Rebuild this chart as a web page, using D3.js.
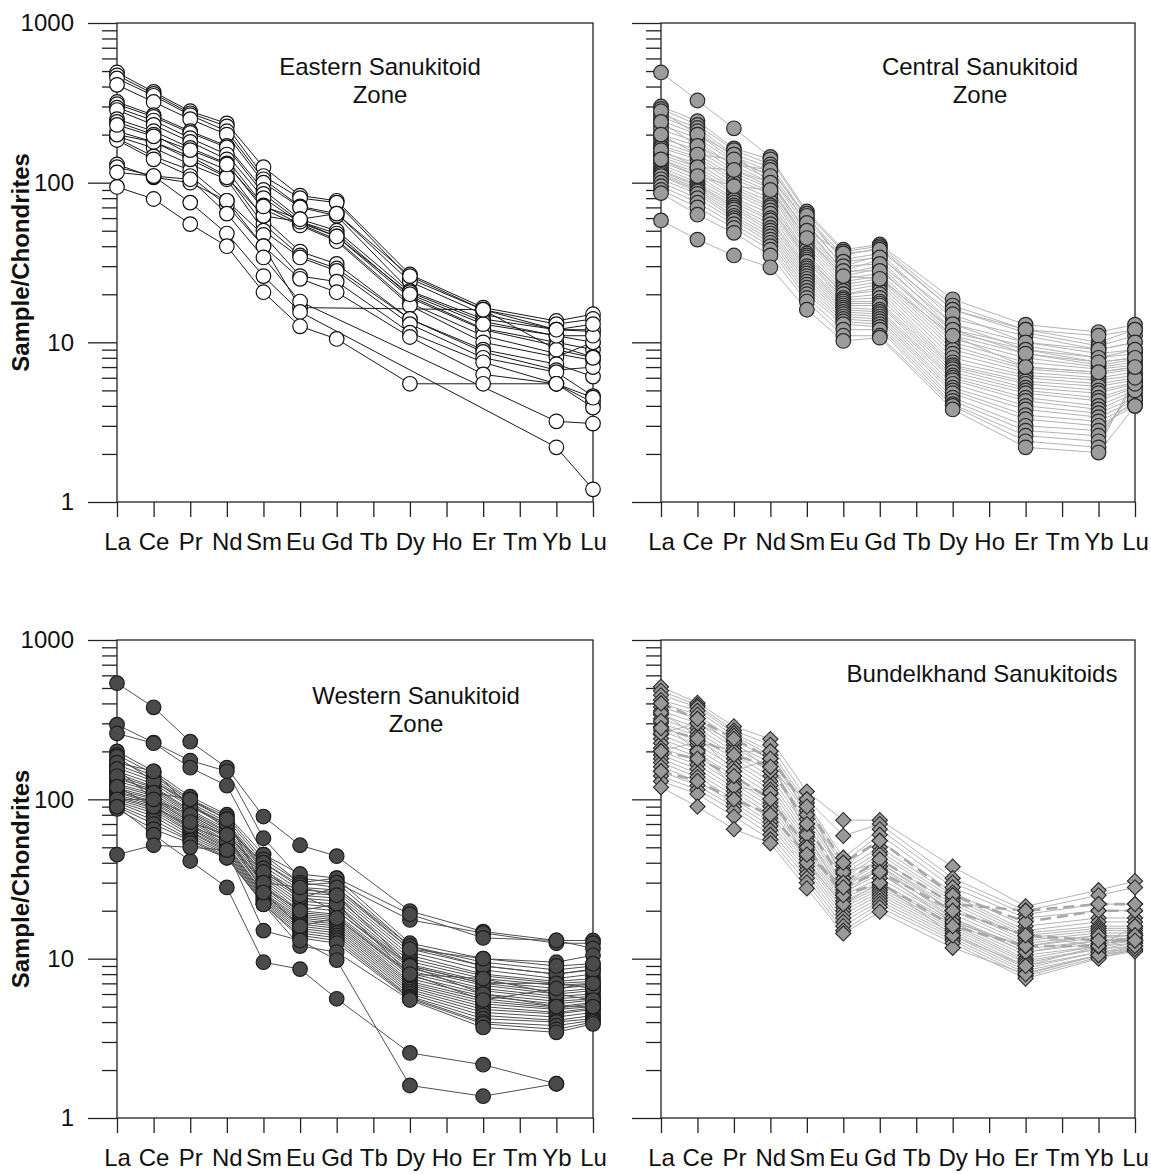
<!DOCTYPE html>
<html>
<head>
<meta charset="utf-8">
<script src="https://cdn.jsdelivr.net/npm/d3@7"></script>
<style>
  body { margin: 0; background: #fff; }
  svg { display: block; font-family: "Liberation Sans", Arial, sans-serif; }
</style>
</head>
<body>
<svg id="chart" width="1151" height="1174"></svg>
<script>
// REE spider diagrams, chondrite normalised
const ELEMENTS = ['La', 'Ce', 'Pr', 'Nd', 'Sm', 'Eu', 'Gd', 'Tb', 'Dy', 'Ho', 'Er', 'Tm', 'Yb', 'Lu'];
// columns of every sample row below
const MEASURED = ['La', 'Ce', 'Pr', 'Nd', 'Sm', 'Eu', 'Gd', 'Dy', 'Er', 'Yb', 'Lu'];
const Y_TICKS = [1, 10, 100, 1000];
const Y_MINOR = [2, 3, 4, 5, 6, 7, 8, 9, 20, 30, 40, 50, 60, 70, 80, 90, 200, 300, 400, 500, 600, 700, 800, 900];

//            La   Ce   Pr   Nd   Sm   Eu    Gd    Dy    Er    Yb    Lu
const eastern = [
  [490, 370, 280, 235, 125, 83, 77, 26.6, 16.5, 13.6, 15],
  [470, 360, 272, 225, 110, 80, 75, 25, 16, 13, 14],
  [450, 350, 265, 210, 105, 71, 64, 24, 15, 12, 11.7],
  [410, 320, 250, 200, 100, 70, 62, 21, 14, 12, 12],
  [320, 265, 210, 170, 90, 59, 50, 20.6, 13.5, 11, 10],
  [310, 258, 205, 166, 85, 57, 48, 19.5, 12.2, 10, 9],
  [295, 245, 190, 150, 80, 56, 46, 19, 12, 9.5, 8.1],
  [285, 230, 180, 140, 72, 55, 44, 17.6, 11, 8.5, 7.7],
  [250, 210, 165, 132, 68, 54, 43, 17, 10, 8.1, 10],
  [240, 200, 150, 120, 60, 37, 31, 14, 9, 7.3, 6.1],
  [210, 180, 146, 110, 55, 35, 29, 14, 8.7, 6.7, 7],
  [195, 165, 130, 105, 50, 34, 28, 13, 8, 6.5, 4.6],
  [190, 146, 120, 77, 47, 26, 24, 11.5, 7.5, 5.5, 4.2],
  [185, 140, 110, 72, 40, 25, 20.6, 10.8, 6.3, 5.5, 3.9],
  [130, 108, 100, 77, 40, 16.5, null, null, 16, 9, 8],
  [125, 110, 105, 64, 34, 18, null, null, null, 3.2, 3.1],
  [116, 110, 75, 48, 26, 15.5, null, null, null, 2.2, 1.2],
  [94, 79, 55, 40, 20.6, 12.6, 10.5, 5.5, 5.5, 5.5, 4.5],
  [200, 180, 140, 108, 62, 57, 46, 20, 13, 11, 11],
  [230, 195, 160, 130, 71, 59, 64, 26, 16, 12, 13]
];

const central = [
  [490, 327, 219, 145, 66, 38, 41, 18.6, 12.9, 11.6, 12.9],
  [300, 243, 164, 140, 64, 37, 40, 17, 12, 10, 12],
  [290, 230, 160, 130, 60, 35, 39, 16, 11.5, 9.5, 11],
  [270, 220, 150, 125, 58, 33, 36, 14, 11, 9, 10],
  [260, 210, 145, 118, 55, 30, 35, 13, 10, 8.5, 9],
  [245, 200, 140, 110, 52, 28, 33, 12, 9.5, 8, 8.5],
  [230, 190, 135, 105, 48, 27, 30, 11.5, 9, 7.5, 8],
  [215, 180, 128, 100, 46, 26, 29, 11, 8.5, 7.2, 7.8],
  [200, 170, 120, 95, 44, 25, 27, 10.5, 8, 7, 7.5],
  [190, 160, 115, 92, 42, 24, 26, 10, 7.5, 6.8, 7.2],
  [180, 150, 110, 88, 40, 23, 25, 9.5, 7, 6.5, 7],
  [170, 145, 105, 85, 38, 22, 24, 9, 6.8, 6.3, 6.8],
  [165, 140, 100, 80, 36, 21, 23, 8.5, 6.5, 6, 6.5],
  [155, 132, 95, 76, 35, 20, 22, 8, 6.2, 5.8, 6.2],
  [150, 125, 92, 72, 34, 20, 21, 7.5, 6, 5.5, 6],
  [145, 120, 88, 70, 33, 19, 20, 7.2, 5.7, 5.3, 5.8],
  [140, 115, 85, 67, 32, 18.5, 19, 7, 5.5, 5, 5.6],
  [135, 110, 80, 64, 30, 18, 18, 6.8, 5.2, 4.8, 5.5],
  [130, 105, 78, 60, 29, 17.5, 17.5, 6.5, 5, 4.5, 5.3],
  [125, 100, 75, 58, 28, 17, 17, 6.2, 4.8, 4.3, 5.2],
  [120, 97, 72, 55, 27, 16.5, 16, 6, 4.5, 4, 5],
  [118, 95, 70, 52, 26, 16, 15.5, 5.8, 4.3, 3.8, 4.8],
  [115, 92, 68, 50, 25, 15.5, 15, 5.5, 4, 3.6, 4.5],
  [112, 90, 65, 48, 24, 15, 14.5, 5.2, 3.8, 3.4, 4.3],
  [110, 88, 62, 46, 23, 14.5, 14, 5, 3.5, 3.2, 4.1],
  [105, 85, 60, 44, 22, 14, 13.5, 4.8, 3.3, 3, 4],
  [100, 80, 58, 42, 21, 13.5, 13, 4.5, 3, 2.8, 4.4],
  [95, 75, 55, 40, 20, 13, 12.5, 4.3, 2.8, 2.6, 5],
  [90, 70, 52, 38, 19, 12, 12, 4.1, 2.6, 2.4, 5.5],
  [86, 63, 48.5, 35, 18, 11, 11, 4, 2.4, 2.2, 6],
  [58, 44, 35, 29.5, 16, 10.2, 10.7, 3.8, 2.2, 2.04, 4],
  [280, 200, 150, 100, 50, 36, 38, 16, 12, 11, 12],
  [240, 170, 130, 120, 62, 32, 34, 15, 10, 9, 10],
  [200, 150, 140, 110, 56, 30, 31, 13, 9, 8, 9],
  [160, 125, 120, 100, 50, 28, 28, 12, 8.5, 7.5, 8],
  [140, 110, 95, 90, 45, 26, 25, 11, 7, 6.5, 7]
];

const western = [
  [536, 378, 230, 158, 78, 51.5, 44, 19.9, 14.8, 13, 13],
  [294, 227, 175, 150, 57, 32, 30, 17.5, 14.5, 12.5, 12.5],
  [259, 225, 158, 122, 45, 30, 32, 19, 13.5, 13, 11.6],
  [200, 150, 104, 80, 45, 34, 32, 12.5, 10, 9.5, 10.5],
  [190, 145, 100, 78, 42, 30, 28, 12, 9.5, 8.5, 9],
  [175, 140, 98, 75, 40, 28, 27, 11.5, 9, 8, 8.6],
  [165, 135, 95, 72, 38, 27, 26, 11, 8.5, 7.5, 8],
  [158, 130, 92, 70, 36, 26, 25, 10.5, 8, 7.2, 7.5],
  [150, 125, 90, 68, 35, 25, 24, 10, 7.8, 7, 7.2],
  [145, 120, 86, 65, 34, 24, 23, 9.6, 7.5, 6.8, 7],
  [140, 118, 84, 63, 33, 23, 22, 9.2, 7.2, 6.5, 6.8],
  [135, 115, 82, 62, 32, 22, 21, 9, 7, 6.2, 6.5],
  [130, 112, 80, 60, 31, 21, 20, 8.7, 6.8, 6, 6.3],
  [125, 108, 78, 58, 30, 20, 19, 8.4, 6.5, 5.8, 6],
  [122, 105, 76, 57, 29, 19.5, 18.5, 8.1, 6.3, 5.6, 5.8],
  [118, 102, 74, 55, 28, 19, 18, 7.8, 6, 5.4, 5.6],
  [115, 100, 72, 54, 27, 18.5, 17.5, 7.5, 5.8, 5.2, 5.5],
  [112, 97, 70, 52, 26, 18, 17, 7.2, 5.6, 5, 5.3],
  [110, 95, 68, 51, 25.5, 17.5, 16.5, 7, 5.4, 4.9, 5.2],
  [107, 92, 66, 50, 25, 17, 16, 6.8, 5.2, 4.8, 5],
  [104, 90, 65, 49, 24.5, 16.5, 15.5, 6.6, 5, 4.6, 4.9],
  [102, 88, 63, 48, 24, 16, 15, 6.4, 4.8, 4.5, 4.8],
  [100, 85, 62, 47, 23.5, 15.5, 14.5, 6.2, 4.6, 4.3, 4.6],
  [97, 82, 60, 46, 23, 15, 14, 6, 4.4, 4.1, 4.4],
  [95, 78, 58, 45, 22.5, 14.5, 13.5, 5.8, 4.2, 4, 4.2],
  [92, 74, 56, 44, 22, 14, 13, 5.7, 4, 3.8, 4.1],
  [90, 70, 55, 43, 22, 13.5, 12.5, 5.6, 3.9, 3.6, 4],
  [87, 65, 53, 43, 21.9, 12, 11, 5.5, 3.7, 3.45, 3.9],
  [185, 130, 95, 65, 40, 29, 30, 12, 9, 8, 8.5],
  [170, 150, 90, 70, 37, 24, 28, 11.5, 10, 9, 9.3],
  [155, 100, 80, 60, 35, 25, 20, 9, 7, 7, 6.5],
  [140, 110, 100, 75, 28, 20, 22, 8, 7.5, 6, 5.5],
  [120, 90, 68, 55, 30, 28, 25, 9, 6, 5, 5],
  [100, 100, 72, 60, 26, 16, 18, 8, 5.5, 6.5, 7],
  [90, 60, 41, 28, 9.5, 8.6, 5.6, 2.56, 2.16, 1.64, null],
  [45, 51.5, 50, 48, 15, 13, 9.8, 1.6, 1.37, 1.64, null]
];

const bundelkhand = [
  [508, 403, 287, 239, 112, 74, 74, 37.8, 21.3, 26.9, 30.7],
  [480, 390, 270, 220, 100, 59, 70, 32, 20, 25, 28],
  [450, 380, 260, 200, 95, 43, 65, 30, 19, 22, 22],
  [420, 360, 250, 190, 90, 40, 60, 28, 18, 20, 20],
  [400, 340, 235, 180, 85, 38, 55, 26, 16, 18, 18],
  [380, 320, 220, 170, 80, 36, 50, 25, 15, 17, 17],
  [360, 300, 210, 160, 75, 34, 47, 24, 14.5, 16, 16],
  [340, 280, 200, 150, 70, 32, 45, 23, 14, 15.5, 15.5],
  [320, 265, 190, 140, 66, 30, 42, 22, 13.5, 15, 15],
  [300, 250, 180, 130, 62, 29, 40, 21, 13, 14.5, 14.5],
  [285, 235, 170, 122, 58, 28, 38, 20, 12.5, 14, 14],
  [270, 220, 160, 115, 55, 27, 36, 19, 12, 13.5, 14],
  [255, 205, 150, 108, 52, 26, 34, 18, 11.5, 13, 13.5],
  [240, 195, 140, 100, 50, 25, 32, 17.5, 11, 12.5, 13],
  [225, 185, 132, 95, 48, 24, 30, 17, 10.5, 12, 13],
  [210, 175, 125, 90, 46, 23, 29, 16.5, 10, 12, 12.5],
  [200, 165, 118, 85, 44, 22, 28, 16, 9.7, 11.5, 12.5],
  [190, 155, 112, 80, 42, 21, 27, 15.5, 9.4, 11.5, 12],
  [180, 145, 106, 76, 40, 20, 26, 15, 9, 11, 12],
  [170, 138, 100, 72, 38, 19, 25, 14.5, 8.7, 11, 11.5],
  [160, 130, 95, 68, 36, 18, 24, 14, 8.4, 10.5, 11.5],
  [150, 122, 90, 64, 34, 17, 23, 13.5, 8.1, 10.5, 11.2],
  [140, 115, 85, 60, 32, 16, 22, 13, 7.8, 10.2, 11.1],
  [130, 108, 78, 56, 30, 15, 21, 12.5, 7.5, 10, 11.5],
  [119, 90, 65, 53, 27.6, 14.4, 19.7, 11.7, 8, 10.5, 12],
  [350, 250, 150, 180, 60, 25, 38, 18, 11, 13, 13],
  [260, 300, 230, 150, 100, 30, 35, 17, 12, 14, 13],
  [200, 230, 200, 200, 80, 35, 40, 20, 14, 12, 16],
  [310, 200, 120, 110, 40, 22, 30, 14, 9, 12, 14],
  [400, 320, 240, 180, 90, 40, 55, 25, 17, 20, 20],
  [280, 240, 190, 160, 70, 30, 42, 22, 20, 22, 22],
  [200, 180, 140, 100, 50, 25, 30, 16, 12, 12, 14],
  [150, 130, 100, 80, 45, 28, 35, 20, 14, 13, 13]
];
// rows of bundelkhand drawn with the thick dashed line
const bundelkhandDashed = [29, 30, 31, 32];

const panels = [
  { data: eastern, title: ['Eastern Sanukitoid', 'Zone'], titleX: 380, titleY: 75,
    x0: 117, x1: 593, yTop: 23, yBot: 502, labels: true,
    lineColor: '#1a1a1a', fill: '#ffffff', stroke: '#111', marker: 'circle' },
  { data: central, title: ['Central Sanukitoid', 'Zone'], titleX: 980, titleY: 75,
    x0: 661, x1: 1135, yTop: 23, yBot: 502, labels: false,
    lineColor: '#b3b3b3', fill: '#9c9c9c', stroke: '#2a2a2a', marker: 'circle' },
  { data: western, title: ['Western Sanukitoid', 'Zone'], titleX: 416, titleY: 704,
    x0: 117, x1: 593, yTop: 640, yBot: 1118, labels: true,
    lineColor: '#505050', fill: '#4a4a4a', stroke: '#1e1e1e', marker: 'circle' },
  { data: bundelkhand, title: ['Bundelkhand Sanukitoids'], titleX: 982, titleY: 682,
    x0: 661, x1: 1135, yTop: 640, yBot: 1118, labels: false, dashed: bundelkhandDashed,
    lineColor: '#b3b3b3', fill: '#9a9a9a', stroke: '#2a2a2a', marker: 'diamond' }
];

const svg = d3.select('#chart');
const AXIS = '#222';

panels.forEach(p => {
  const x = d3.scalePoint().domain(ELEMENTS).range([p.x0, p.x1]);
  const y = d3.scaleLog().domain([1, 1000]).range([p.yBot, p.yTop]);
  const g = svg.append('g');

  // y axis: major + minor ticks
  const yMajor = g.append('g')
    .attr('transform', `translate(${p.x0},0)`)
    .call(d3.axisLeft(y).tickValues(Y_TICKS).tickSize(29).tickSizeOuter(0).tickPadding(14)
      .tickFormat(p.labels ? d3.format('d') : ''));
  const yMinor = g.append('g')
    .attr('transform', `translate(${p.x0},0)`)
    .call(d3.axisLeft(y).tickValues(Y_MINOR).tickSize(15).tickFormat(''));
  const xAxis = g.append('g')
    .attr('transform', `translate(0,${p.yBot})`)
    .call(d3.axisBottom(x).tickSize(15).tickSizeOuter(0).tickPadding(16));

  [yMajor, yMinor, xAxis].forEach(a => {
    a.select('.domain').remove();
    a.attr('font-size', 24).attr('font-family', null).attr('color', AXIS);
    a.selectAll('line').attr('stroke-width', 1.3);
    a.selectAll('text').attr('fill', '#111');
  });

  // frame
  g.append('rect')
    .attr('x', p.x0).attr('y', p.yTop)
    .attr('width', p.x1 - p.x0).attr('height', p.yBot - p.yTop)
    .attr('fill', 'none').attr('stroke', AXIS).attr('stroke-width', 1.3);

  if (p.labels) {
    g.append('text')
      .attr('transform', `translate(29,${(p.yTop + p.yBot) / 2}) rotate(-90)`)
      .attr('text-anchor', 'middle')
      .attr('font-size', 24).attr('font-weight', 'bold').attr('fill', '#111')
      .text('Sample/Chondrites');
  }

  p.title.forEach((t, i) => {
    g.append('text')
      .attr('x', p.titleX).attr('y', p.titleY + i * 28)
      .attr('text-anchor', 'middle')
      .attr('font-size', 24).attr('fill', '#111')
      .text(t);
  });

  const samples = p.data.map((row, i) => ({
    dashed: (p.dashed || []).includes(i),
    pts: MEASURED.map((el, j) => ({ el, v: row[j] })).filter(d => d.v != null)
  }));

  const line = d3.line().x(d => x(d.el)).y(d => y(d.v));

  g.append('g').selectAll('path')
    .data(samples)
    .join('path')
    .attr('d', d => line(d.pts))
    .attr('fill', 'none')
    .attr('stroke', d => d.dashed ? '#a8a8a8' : p.lineColor)
    .attr('stroke-width', d => d.dashed ? 2.6 : 1)
    .attr('stroke-dasharray', d => d.dashed ? '11,6' : null);

  const allPts = samples.flatMap(s => s.pts);
  const marks = g.append('g');
  if (p.marker === 'circle') {
    marks.selectAll('circle')
      .data(allPts)
      .join('circle')
      .attr('cx', d => x(d.el)).attr('cy', d => y(d.v))
      .attr('r', 7.3)
      .attr('fill', p.fill).attr('stroke', p.stroke).attr('stroke-width', 1.2);
  } else {
    const sym = d3.symbol(d3.symbolSquare, 115);
    marks.selectAll('path')
      .data(allPts)
      .join('path')
      .attr('d', sym)
      .attr('transform', d => `translate(${x(d.el)},${y(d.v)}) rotate(45)`)
      .attr('fill', p.fill).attr('stroke', p.stroke).attr('stroke-width', 1.1);
  }
});
</script>
</body>
</html>
